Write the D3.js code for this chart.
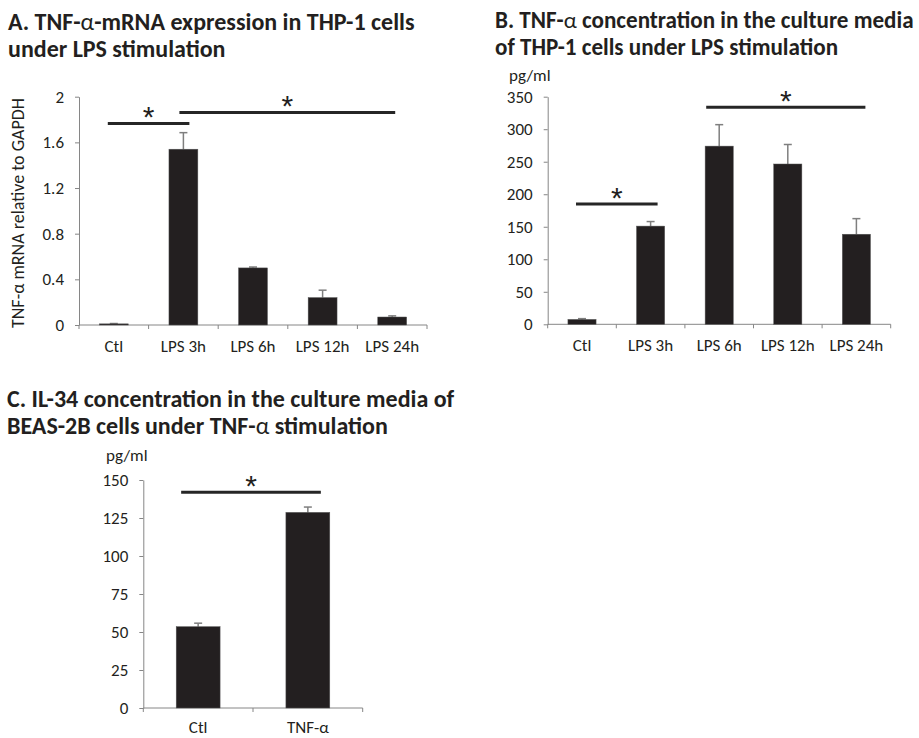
<!DOCTYPE html>
<html><head><meta charset="utf-8">
<script src="https://cdn.jsdelivr.net/npm/d3@7"></script>
<style>
html,body{margin:0;padding:0;background:#fff;}
text{font-family:Carlito,Lato,"Open Sans",sans-serif;fill:#231f20;}
</style></head>
<body>
<svg id="chart" width="919" height="738"></svg>
<script>
// ---- data ----
const catsA = ["Ctl","LPS 3h","LPS 6h","LPS 12h","LPS 24h"];
const meanA = [0.01, 1.54, 0.50, 0.24, 0.07];
const errA  = [0.003, 0.145, 0.008, 0.065, 0.01];
const ticksA = [0, 0.4, 0.8, 1.2, 1.6, 2];
const sigA = [{from:"Ctl", to:"LPS 3h", level:1.766}, {from:"LPS 3h", to:"LPS 24h", level:1.862}];

const catsB = ["Ctl","LPS 3h","LPS 6h","LPS 12h","LPS 24h"];
const meanB = [7.5, 151, 274, 246.5, 138.5];
const errB  = [1.2, 7, 33, 30, 24];
const ticksB = [0, 50, 100, 150, 200, 250, 300, 350];
const sigB = [{from:"Ctl", to:"LPS 3h", level:185}, {from:"LPS 6h", to:"LPS 24h", level:333.7}];

const catsC = ["Ctl","TNF-α"];
const meanC = [53.5, 128.7];
const errC  = [2.3, 3.5];
const ticksC = [0, 25, 50, 75, 100, 125, 150];
const sigC = [{from:"Ctl", to:"TNF-α", level:141.9}];

const svg = d3.select("#chart");
const DARK = "#231f20", AXIS = "#868686", ERR = "#7f7f7f";
const LAB = 17;

function panel(o) {
  const x = d3.scaleBand().domain(o.cats).range([o.x0, o.x1]).paddingInner(o.pad).paddingOuter(o.pad/2);
  const y = d3.scaleLinear().domain([0, d3.max(o.ticks)]).range([o.y0, o.yT]);
  const g = svg.append("g");
  // y axis
  const ya = g.append("g").attr("transform", `translate(${o.x0},0)`)
    .call(d3.axisLeft(y).tickValues(o.ticks).tickSize(4).tickSizeOuter(0).tickPadding(11).tickFormat(o.fmt));
  ya.select(".domain").attr("stroke", AXIS);
  ya.selectAll(".tick line").attr("stroke", AXIS);
  ya.selectAll(".tick text").attr("font-size", LAB).attr("fill", DARK).attr("font-family", null);
  // x axis line + boundary ticks
  g.append("line").attr("x1", o.x0).attr("x2", o.x1).attr("y1", o.y0).attr("y2", o.y0).attr("stroke", AXIS);
  const bounds = o.cats.map(c => x(c) - x.step()*o.pad/2).concat([o.x1]);
  g.selectAll(".xt").data(bounds).join("line").attr("x1", d=>d).attr("x2", d=>d)
    .attr("y1", o.y0).attr("y2", o.y0+4).attr("stroke", AXIS);
  g.selectAll(".xl").data(o.cats).join("text").attr("x", d => x(d)+x.bandwidth()/2)
    .attr("y", o.y0+o.labDy).attr("text-anchor","middle").attr("font-size", LAB).text(d=>d);
  // error bars
  const eb = g.selectAll(".eb").data(o.cats).join("g");
  eb.append("line").attr("x1", d=>x(d)+x.bandwidth()/2).attr("x2", d=>x(d)+x.bandwidth()/2)
    .attr("y1", (d,i)=>y(o.vals[i])).attr("y2", (d,i)=>y(o.vals[i]+o.errs[i])).attr("stroke", ERR).attr("stroke-width",1.5);
  eb.append("line").attr("x1", d=>x(d)+x.bandwidth()/2-4).attr("x2", d=>x(d)+x.bandwidth()/2+4)
    .attr("y1", (d,i)=>y(o.vals[i]+o.errs[i])).attr("y2", (d,i)=>y(o.vals[i]+o.errs[i])).attr("stroke", ERR).attr("stroke-width",1.5);
  // bars
  g.selectAll(".bar").data(o.cats).join("rect").attr("x", d=>x(d)).attr("width", x.bandwidth())
    .attr("y", (d,i)=>y(o.vals[i])).attr("height", (d,i)=>o.y0 - y(o.vals[i]))
    .attr("fill", DARK).attr("stroke","#555").attr("stroke-width",0.5);
  // significance
  o.sig.forEach((s, k) => {
    const a = x(s.from)+x.bandwidth()/2 - o.ext[k][0];
    const b = x(s.to)+x.bandwidth()/2 + o.ext[k][1];
    const yy = y(s.level);
    g.append("line").attr("x1", a).attr("x2", b).attr("y1", yy).attr("y2", yy)
      .attr("stroke", "#262626").attr("stroke-width", 3);
    g.append("text").attr("x", (a+b)/2).attr("y", yy + 4).attr("text-anchor","middle")
      .attr("font-size", 30).style("font-family", "'Liberation Sans',Arial,sans-serif").text("*");
  });
  return g;
}

panel({cats:catsA, vals:meanA, errs:errA, ticks:ticksA, fmt:d3.format("~g"), x0:79, x1:427, yT:96.7, y0:325,
  pad:0.585, labDy:27, sig:sigA, ext:[[6,6],[4,3]]});
panel({cats:catsB, vals:meanB, errs:errB, ticks:ticksB, fmt:d3.format("d"), x0:547.7, x1:890.7, yT:96.7, y0:324.3,
  pad:0.59, labDy:27, sig:sigB, ext:[[6,7],[13,9]]});
panel({cats:catsC, vals:meanC, errs:errC, ticks:ticksC, fmt:d3.format("d"), x0:143.3, x1:362.7, yT:480, y0:708,
  pad:0.6, labDy:25, sig:sigC, ext:[[17,13]]});

// y label A
svg.append("text").attr("transform","translate(24,213) rotate(-90)").attr("text-anchor","middle")
  .attr("font-size", 18).text("TNF-α mRNA relative to GAPDH");
// units
svg.append("text").attr("x", 509).attr("y", 81).attr("font-size", 17).text("pg/ml");
svg.append("text").attr("x", 106).attr("y", 461).attr("font-size", 17).text("pg/ml");

// titles
const titles = [
  {x:8, y:30, size:24, lines:[["A. TNF-","α","-mRNA expression in THP-1 cells"],["under LPS stimulation"]]},
  {x:495, y:28, size:23.1, lines:[["B. TNF-","α"," concentration in the culture media"],["of THP-1 cells under LPS stimulation"]]},
  {x:7, y:407, size:24, lines:[["C. IL-34 concentration in the culture media of"],["BEAS-2B cells under TNF-","α"," stimulation"]]}
];
titles.forEach(t => {
  t.lines.forEach((parts, li) => {
    const tx = svg.append("text").attr("x", t.x).attr("y", t.y + li*27).attr("font-size", t.size).attr("font-weight", 700);
    parts.forEach(p => {
      const ts = tx.append("tspan").text(p);
      if (p === "α") ts.attr("font-weight", 400);
    });
  });
});
</script>
</body></html>
